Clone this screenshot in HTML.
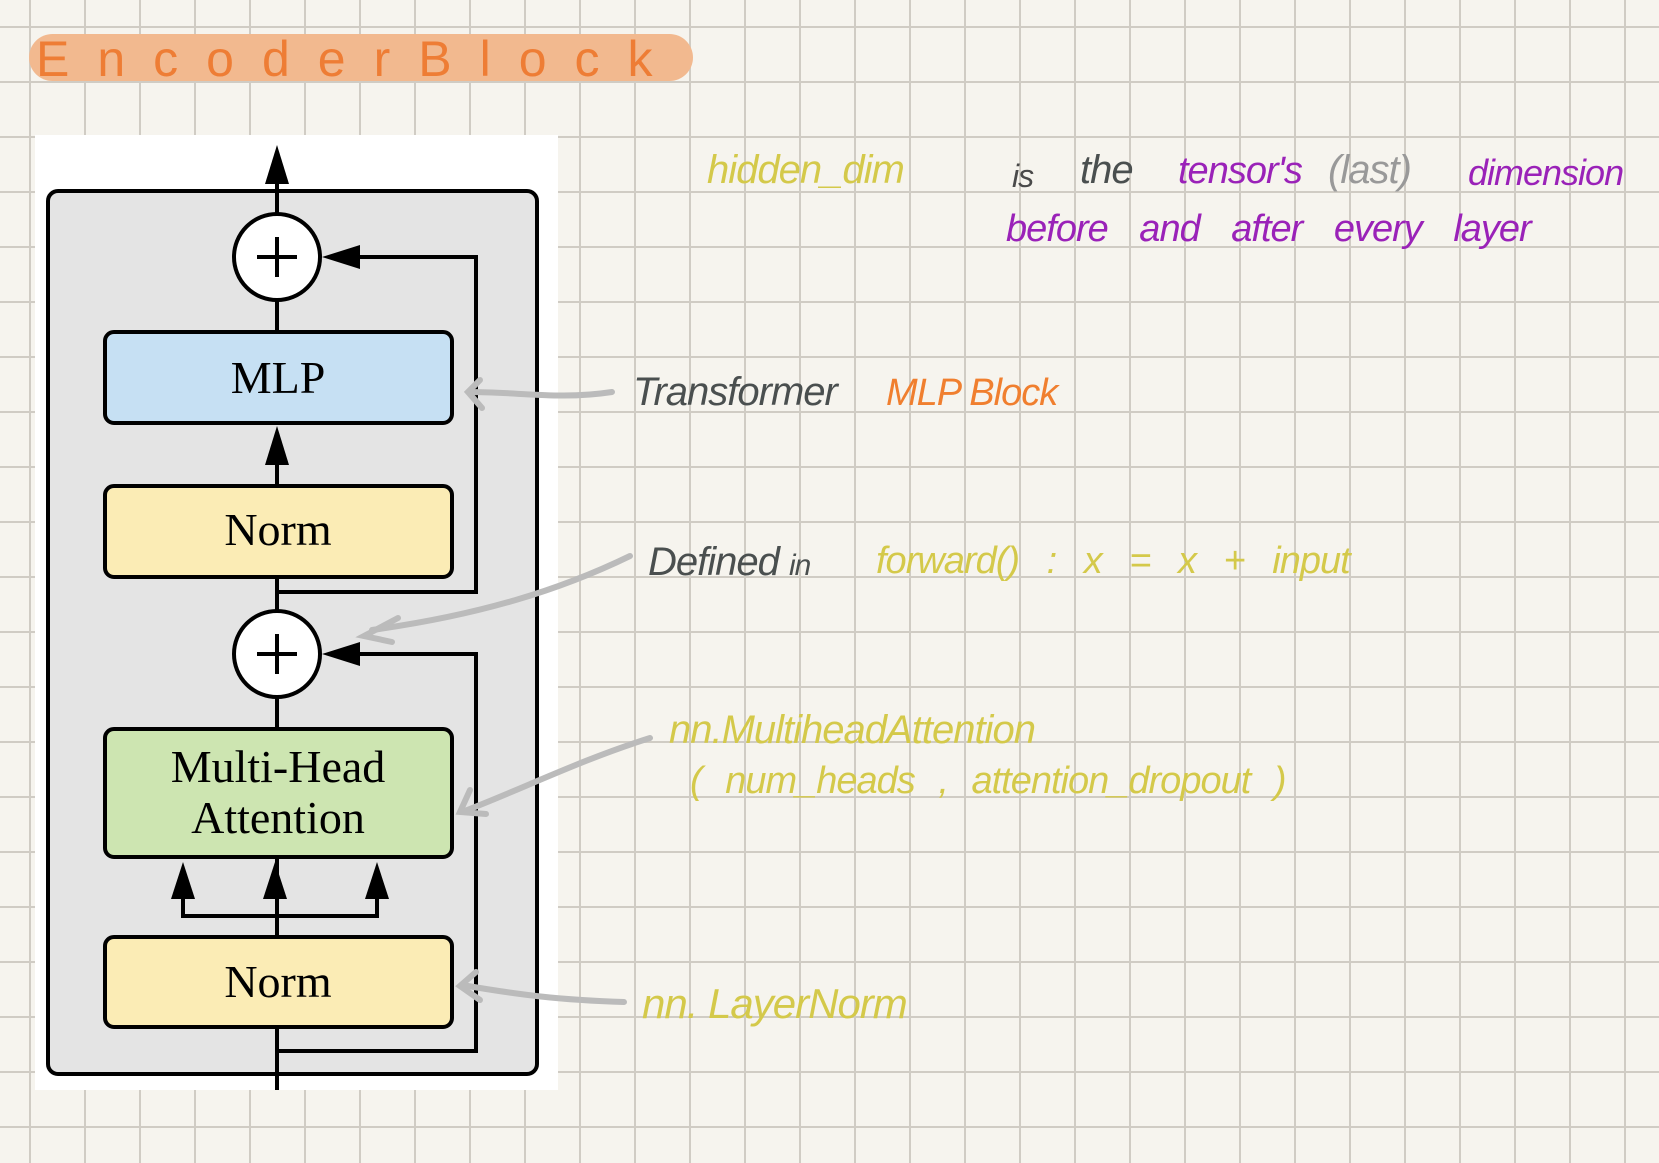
<!DOCTYPE html>
<html><head><meta charset="utf-8"><style>
html,body{margin:0;padding:0}
body{width:1659px;height:1163px;overflow:hidden;background-color:#f6f4ee;
background-image:linear-gradient(to right,#d0ccc4 2px,transparent 2px),linear-gradient(to bottom,#d0ccc4 2px,transparent 2px);
background-size:55px 55px;background-position:29px 26px;position:relative;font-family:"Liberation Sans",sans-serif}
.t{position:absolute;font-family:"Liberation Sans",sans-serif;font-style:italic;white-space:nowrap;letter-spacing:-1px}
</style></head><body>
<div style="position:absolute;left:29px;top:34px;width:664px;height:47px;border-radius:24px;background:#f2b98f"></div>
<div class="t" style="left:36px;top:30px;font-size:50px;color:#ee7d35;font-style:normal;letter-spacing:28px">EncoderBlock</div>

<svg style="position:absolute;left:0;top:0" width="1659" height="1163">
<rect x="35" y="135" width="523" height="955" fill="#fff"/>
<rect x="48" y="191" width="489" height="883" rx="10" fill="#e4e4e4" stroke="#000" stroke-width="4"/>
<g stroke="#000" stroke-width="4" fill="none">
<line x1="277" y1="160" x2="277" y2="214"/>
<line x1="277" y1="300" x2="277" y2="332"/>
<line x1="277" y1="450" x2="277" y2="486"/>
<line x1="277" y1="577" x2="277" y2="611"/>
<line x1="277" y1="697" x2="277" y2="729"/>
<line x1="277" y1="857" x2="277" y2="937"/>
<line x1="277" y1="1027" x2="277" y2="1090"/>
<polyline points="277,592 476,592 476,257 345,257"/>
<polyline points="277,1051 476,1051 476,654 345,654"/>
<polyline points="183,880 183,916 377,916 377,880"/>
</g>
<g fill="#000">
<polygon points="277,145 265,184 289,184"/>
<polygon points="277,426 265,465 289,465"/>
<polygon points="322,257 360,245 360,269"/>
<polygon points="322,654 360,642 360,666"/>
<polygon points="183,862 171,899 195,899"/>
<polygon points="275,862 263,899 287,899"/>
<polygon points="377,862 365,899 389,899"/>
</g>
<g stroke="#000" stroke-width="4" fill="#fff">
<circle cx="277" cy="257" r="43"/><circle cx="277" cy="654" r="43"/>
</g>
<g stroke="#000" stroke-width="4">
<line x1="257" y1="257" x2="297" y2="257"/><line x1="277" y1="237" x2="277" y2="277"/>
<line x1="257" y1="654" x2="297" y2="654"/><line x1="277" y1="634" x2="277" y2="674"/>
</g>
<g stroke="#000" stroke-width="4">
<rect x="105" y="332" width="347" height="91" rx="9" fill="#c6e0f3"/>
<rect x="105" y="486" width="347" height="91" rx="9" fill="#fbecb5"/>
<rect x="105" y="729" width="347" height="128" rx="9" fill="#cde5b1"/>
<rect x="105" y="937" width="347" height="90" rx="9" fill="#fbecb5"/>
</g>
<g font-family="Liberation Serif,serif" font-size="46" text-anchor="middle" fill="#000">
<text x="278" y="393">MLP</text>
<text x="278" y="545">Norm</text>
<text x="278" y="782">Multi-Head</text>
<text x="278" y="833">Attention</text>
<text x="278" y="997">Norm</text>
</g>
<g stroke="#bbb" stroke-width="6" fill="none" stroke-linecap="round">
<path d="M612,392 C560,400 520,392 470,392"/>
<path d="M480,380 L468,392 L482,408"/>
<path d="M630,556 C560,590 480,615 372,630"/>
<path d="M398,618 L364,636 L392,642"/>
<path d="M650,738 C580,760 520,790 462,812"/>
<path d="M470,790 L460,812 L486,814"/>
<path d="M624,1002 C560,1000 520,995 462,985"/>
<path d="M476,972 L460,986 L480,1000"/>
</g>
</svg>

<div class="t" style="left:707px;top:148px;font-size:40px;color:#d4c94a">hidden_dim</div>
<div class="t" style="left:1012px;top:158px;font-size:32px;color:#4a4a4a">is</div>
<div class="t" style="left:1080px;top:148px;font-size:40px;color:#4a4f4f">the</div>
<div class="t" style="left:1178px;top:150px;font-size:38px;color:#9a22b8">tensor's</div>
<div class="t" style="left:1328px;top:148px;font-size:40px;color:#999">(last)</div>
<div class="t" style="left:1468px;top:152px;font-size:36px;color:#9a22b8">dimension</div>
<div class="t" style="left:1006px;top:208px;font-size:38px;color:#9a22b8;word-spacing:22px">before and after every layer</div>
<div class="t" style="left:633px;top:370px;font-size:40px;color:#4a4f4f">Transformer</div>
<div class="t" style="left:886px;top:372px;font-size:38px;color:#f07f2f">MLP Block</div>
<div class="t" style="left:648px;top:540px;font-size:40px;color:#4a4f4f">Defined <span style="font-size:30px">in</span></div>
<div class="t" style="left:876px;top:540px;font-size:38px;color:#d4c94a;word-spacing:18px">forward() : x = x + input</div>
<div class="t" style="left:669px;top:708px;font-size:40px;color:#d4c94a">nn.MultiheadAttention</div>
<div class="t" style="left:690px;top:760px;font-size:38px;color:#d4c94a;word-spacing:14px">( num_heads , attention_dropout )</div>
<div class="t" style="left:642px;top:980px;font-size:42px;color:#d4c94a">nn. LayerNorm</div>
</body></html>
